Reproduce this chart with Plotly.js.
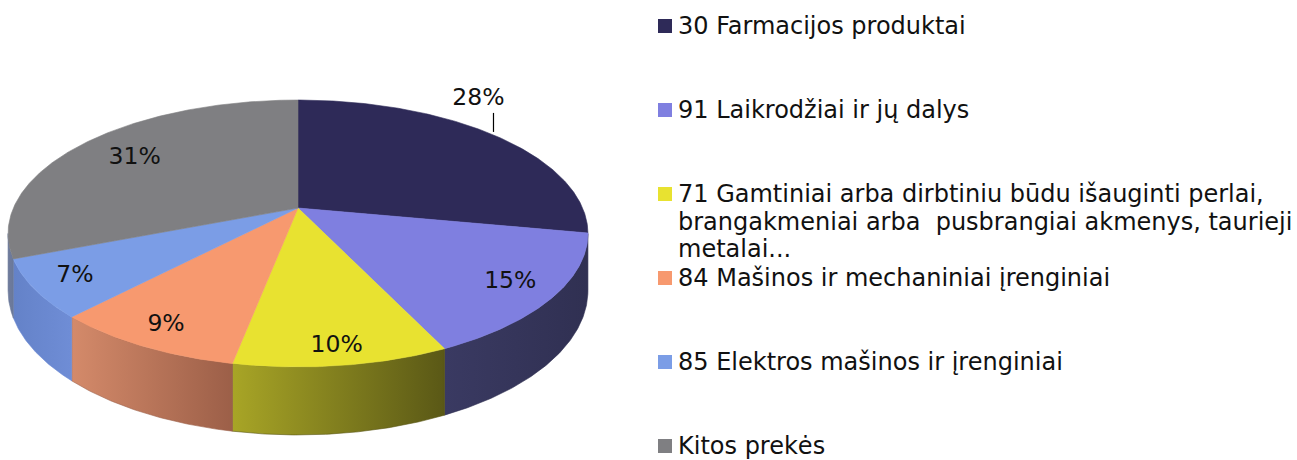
<!DOCTYPE html>
<html>
<head>
<meta charset="utf-8">
<script src="https://cdn.plot.ly/plotly-3.0.1.min.js"></script>
<style>html,body{margin:0;padding:0;background:#fff;}#chart{width:1297px;height:460px;}</style>
</head>
<body>
<div id="chart"></div>
<script>
// ---- data ----
const categories = [
  '30 Farmacijos produktai',
  '91 Laikrodžiai ir jų dalys',
  '71 Gamtiniai arba dirbtiniu būdu išauginti perlai,<br>brangakmeniai arba\u00a0 pusbrangiai akmenys, taurieji<br>metalai...',
  '84 Mašinos ir mechaniniai įrenginiai',
  '85 Elektros mašinos ir įrenginiai',
  'Kitos prekės'
];
const shares = [28, 15, 10, 9, 7, 31];

// ---- styles ----
const topColors = ['#2e2a58', '#7f7fe0', '#e8e230', '#f7996f', '#7b9de6', '#7f7f82'];
const sideColors = [
  ['#35355c', '#2e2e50'],
  ['#3a3a62', '#303052'],
  ['#a8a526', '#5a5816'],
  ['#d48a6a', '#9c5f48'],
  ['#6482c8', '#6f8dd6'],
  ['#707c9c', '#6a789a']
];
const labelRadius = [1.0, 0.85, 0.9, 0.87, 0.86, 0.75];
const FONT = 'DejaVu Sans, Verdana, sans-serif';

// ---- geometry of the tilted pie (pixel space of the axes) ----
const W = 1297, H = 460;
const CX = 298, CY = 208, A = 284.6, B = 128.6, K = 0.191, DEPTH = 55;
function proj(theta, r) {
  const u = r * Math.sin(theta), v = r * Math.cos(theta);
  const w = 1 + K * v;
  return [CX + A * u / w, CY - B * v / w, w];
}
const T1 = Math.acos(-K), T2 = 2 * Math.PI - T1;
const total = shares.reduce((a, b) => a + b, 0);
function arc(a0, a1) {
  const n = Math.max(2, Math.ceil((a1 - a0) / (Math.PI / 360)));
  const pts = [];
  for (let j = 0; j <= n; j++) pts.push(a0 + (a1 - a0) * j / n);
  return pts;
}

const sideTraces = [], topTraces = [], labelX = [], labelY = [], labelT = [];
const extraTraces = [];
let cum = 0;
shares.forEach((val, i) => {
  const a0 = cum / total * 2 * Math.PI;
  cum += val;
  const a1 = cum / total * 2 * Math.PI;
  // top face
  const tx = [CX], ty = [CY];
  arc(a0, a1).forEach(t => { const p = proj(t, 1); tx.push(p[0]); ty.push(p[1]); });
  tx.push(CX); ty.push(CY);
  topTraces.push({
    type: 'scatter', mode: 'lines', x: tx, y: ty, fill: 'toself',
    fillcolor: topColors[i], line: {color: topColors[i], width: 0.6},
    hoverinfo: 'skip', showlegend: false
  });
  // visible side
  const s0 = Math.max(a0, T1), s1 = Math.min(a1, T2);
  if (s1 > s0) {
    const ts = arc(s0, s1);
    const sx = [], sy = [];
    ts.forEach(t => { const p = proj(t, 1); sx.push(p[0]); sy.push(p[1]); });
    ts.slice().reverse().forEach(t => { const p = proj(t, 1); sx.push(p[0]); sy.push(p[1] + DEPTH / p[2]); });
    sx.push(sx[0]); sy.push(sy[0]);
    sideTraces.push({
      type: 'scatter', mode: 'lines', x: sx, y: sy, fill: 'toself',
      fillgradient: {type: 'horizontal', colorscale: [[0, sideColors[i][0]], [1, sideColors[i][1]]]},
      line: {color: sideColors[i][1], width: 0.6},
      hoverinfo: 'skip', showlegend: false
    });
  }
  // label
  const mid = (a0 + a1) / 2;
  const lp = proj(mid, labelRadius[i]);
  if (labelRadius[i] >= 1) {
    extraTraces.push({
      type: 'scatter', mode: 'lines', x: [lp[0], lp[0]], y: [lp[1] - 3, lp[1] - 22],
      line: {color: '#000', width: 1.2}, hoverinfo: 'skip', showlegend: false
    });
    labelX.push(lp[0] - 15); labelY.push(lp[1] - 36);
  } else {
    labelX.push(lp[0]); labelY.push(lp[1]);
  }
  labelT.push(val + '%');
});

const labelTrace = {
  type: 'scatter', mode: 'text', x: labelX, y: labelY, text: labelT,
  textposition: 'middle center',
  textfont: {family: FONT, size: 23.5, color: '#111'},
  hoverinfo: 'skip', showlegend: false
};

// ---- legend (drawn at right) ----
const LEG_X = 658, LEG_TOP = 26, LEG_PITCH = 84, LINE_PITCH = 27.5, SW = 14;
const annotations = [], shapes = [];
categories.forEach((name, i) => {
  const y0 = LEG_TOP + i * LEG_PITCH;
  shapes.push({type: 'rect', xref: 'x', yref: 'y', x0: LEG_X, x1: LEG_X + SW,
    y0: y0 - SW / 2, y1: y0 + SW / 2, fillcolor: topColors[i], line: {width: 0}});
  name.split('<br>').forEach((line, j) => {
    annotations.push({xref: 'x', yref: 'y', x: LEG_X + SW + 4, y: y0 + j * LINE_PITCH,
      xanchor: 'left', yanchor: 'middle', showarrow: false, text: line,
      font: {family: FONT, size: 24, color: '#111'}});
  });
});

const layout = {
  width: W, height: H,
  margin: {l: 0, r: 0, t: 0, b: 0},
  paper_bgcolor: '#fff', plot_bgcolor: '#fff',
  xaxis: {range: [0, W], visible: false, fixedrange: true},
  yaxis: {range: [H, 0], visible: false, fixedrange: true},
  showlegend: false,
  annotations: annotations,
  shapes: shapes
};

Plotly.newPlot('chart', sideTraces.concat(topTraces, extraTraces, [labelTrace]), layout,
  {displayModeBar: false, staticPlot: true});
</script>
</body>
</html>
